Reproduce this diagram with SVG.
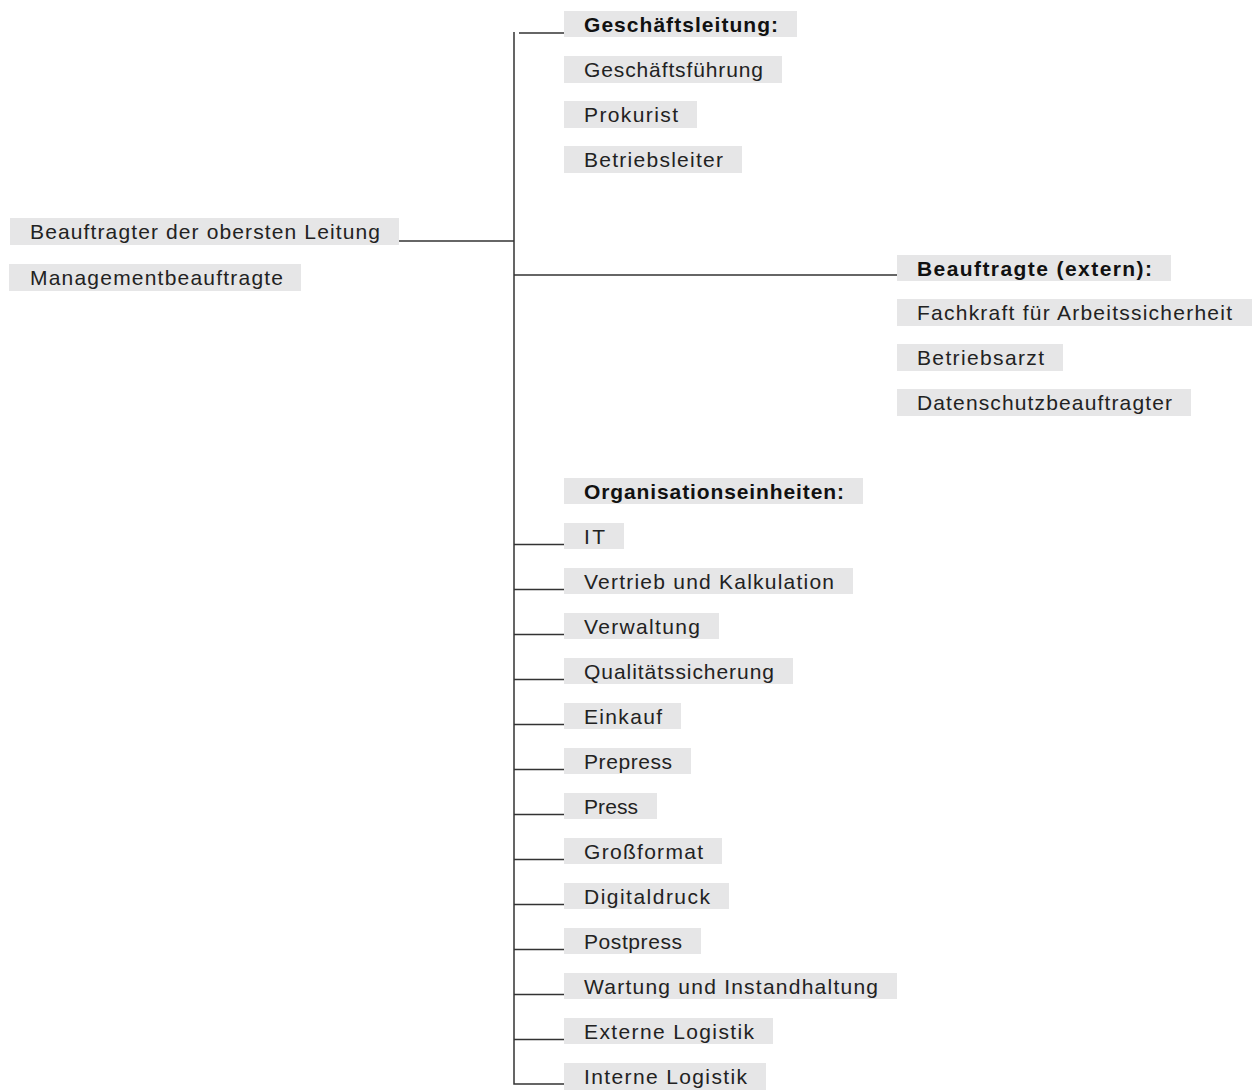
<svg xmlns="http://www.w3.org/2000/svg" width="1256" height="1090" viewBox="0 0 1256 1090">
<style>
.bg{fill:#e6e6e7}
.t{font-family:"Liberation Sans",Arial,sans-serif;font-size:21px;fill:#222}
.b{font-weight:bold;fill:#111}
.c{stroke:#333;stroke-width:1.5;fill:none}
</style>
<rect width="1256" height="1090" fill="#fff"/>
<g id="connectors">
<path class="c" d="M514 32V1084H564"/>
<path class="c" d="M519 33H564"/>
<path class="c" d="M399 241H514"/>
<path class="c" d="M514 275H897"/>
<path class="c" d="M514 544.5H564M514 589.5H564M514 634.5H564M514 679.5H564M514 724.5H564M514 769.5H564M514 814.5H564M514 859.5H564M514 904.5H564M514 949.5H564M514 994.5H564M514 1039.5H564"/>
</g>
<g id="n-beauftragter"><rect class="bg" x="10" y="218" width="389" height="27"/><text class="t" x="30" y="239" textLength="350" lengthAdjust="spacing">Beauftragter der obersten Leitung</text></g>
<g id="n-management"><rect class="bg" x="9" y="264" width="292" height="27"/><text class="t" x="30" y="285" textLength="253" lengthAdjust="spacing">Managementbeauftragte</text></g>
<g id="n-gl"><rect class="bg" x="564" y="11" width="233" height="26"/><text class="t b" x="584" y="32" textLength="194" lengthAdjust="spacing">Geschäftsleitung:</text></g>
<g id="n-gf"><rect class="bg" x="564" y="56" width="218" height="27"/><text class="t" x="584" y="77" textLength="179" lengthAdjust="spacing">Geschäftsführung</text></g>
<g id="n-prok"><rect class="bg" x="564" y="101" width="133" height="27"/><text class="t" x="584" y="122" textLength="94" lengthAdjust="spacing">Prokurist</text></g>
<g id="n-bl"><rect class="bg" x="564" y="146" width="178" height="27"/><text class="t" x="584" y="167" textLength="139" lengthAdjust="spacing">Betriebsleiter</text></g>
<g id="n-ext"><rect class="bg" x="897" y="255" width="274" height="26"/><text class="t b" x="917" y="276" textLength="235" lengthAdjust="spacing">Beauftragte (extern):</text></g>
<g id="n-fachkraft"><rect class="bg" x="897" y="299" width="355" height="27"/><text class="t" x="917" y="320" textLength="315" lengthAdjust="spacing">Fachkraft für Arbeitssicherheit</text></g>
<g id="n-arzt"><rect class="bg" x="897" y="344" width="166" height="27"/><text class="t" x="917" y="365" textLength="127" lengthAdjust="spacing">Betriebsarzt</text></g>
<g id="n-ds"><rect class="bg" x="897" y="389" width="294" height="27"/><text class="t" x="917" y="410" textLength="255" lengthAdjust="spacing">Datenschutzbeauftragter</text></g>
<g id="n-org"><rect class="bg" x="564" y="478" width="299" height="26"/><text class="t b" x="584" y="499" textLength="260" lengthAdjust="spacing">Organisationseinheiten:</text></g>
<g id="n-it"><rect class="bg" x="564" y="523" width="60" height="26"/><text class="t" x="584" y="544" textLength="21" lengthAdjust="spacing">IT</text></g>
<g id="n-vertrieb"><rect class="bg" x="564" y="568" width="289" height="26"/><text class="t" x="584" y="589" textLength="250" lengthAdjust="spacing">Vertrieb und Kalkulation</text></g>
<g id="n-verw"><rect class="bg" x="564" y="613" width="155" height="26"/><text class="t" x="584" y="634" textLength="116" lengthAdjust="spacing">Verwaltung</text></g>
<g id="n-qs"><rect class="bg" x="564" y="658" width="229" height="26"/><text class="t" x="584" y="679" textLength="190" lengthAdjust="spacing">Qualitätssicherung</text></g>
<g id="n-einkauf"><rect class="bg" x="564" y="703" width="117" height="26"/><text class="t" x="584" y="724" textLength="78" lengthAdjust="spacing">Einkauf</text></g>
<g id="n-prepress"><rect class="bg" x="564" y="748" width="127" height="26"/><text class="t" x="584" y="769" textLength="88" lengthAdjust="spacing">Prepress</text></g>
<g id="n-press"><rect class="bg" x="564" y="793" width="93" height="26"/><text class="t" x="584" y="814" textLength="54" lengthAdjust="spacing">Press</text></g>
<g id="n-gross"><rect class="bg" x="564" y="838" width="158" height="26"/><text class="t" x="584" y="859" textLength="119" lengthAdjust="spacing">Großformat</text></g>
<g id="n-digital"><rect class="bg" x="564" y="883" width="165" height="26"/><text class="t" x="584" y="904" textLength="126" lengthAdjust="spacing">Digitaldruck</text></g>
<g id="n-postpress"><rect class="bg" x="564" y="928" width="137" height="26"/><text class="t" x="584" y="949" textLength="98" lengthAdjust="spacing">Postpress</text></g>
<g id="n-wartung"><rect class="bg" x="564" y="973" width="333" height="26"/><text class="t" x="584" y="994" textLength="294" lengthAdjust="spacing">Wartung und Instandhaltung</text></g>
<g id="n-extlog"><rect class="bg" x="564" y="1018" width="209" height="26"/><text class="t" x="584" y="1039" textLength="170" lengthAdjust="spacing">Externe Logistik</text></g>
<g id="n-intlog"><rect class="bg" x="564" y="1063" width="202" height="27"/><text class="t" x="584" y="1084" textLength="163" lengthAdjust="spacing">Interne Logistik</text></g>
</svg>
